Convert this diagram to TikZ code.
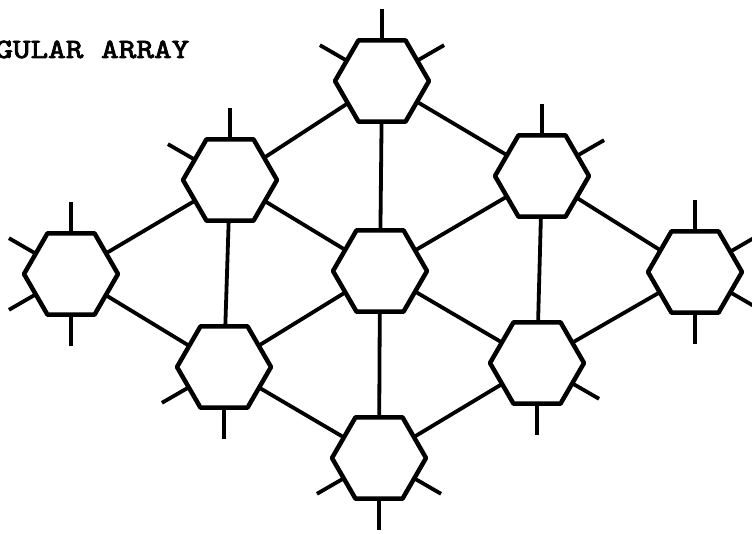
\documentclass[tikz,border=0pt]{standalone}
\usepackage{fontspec}
\newfontfamily\titlefont[FakeBold=2.5]{lmmono10-regular.otf}
\usetikzlibrary{shapes.geometric}
\tikzset{
  x=1pt, y=1pt,
  hexnode/.style={shape=regular polygon, regular polygon sides=6, draw, minimum size=94pt,
    inner sep=0pt, outer sep=0pt, line width=4.5pt, line join=round},
  link/.style={line width=3.8pt},
  stub/.style={line width=3.8pt},
  titletext/.style={anchor=base west, inner sep=0pt, xscale=1.2, transform shape,
    font=\titlefont\fontsize{28}{30}\selectfont}
}
\begin{document}
\begin{tikzpicture}
\useasboundingbox (0,0) rectangle (752,533);
\clip (0,0) rectangle (752,533);
\node[titletext] (title) at (-5,475) {GULAR ARRAY};
\node[hexnode] (T)  at (382,452) {};
\node[hexnode] (UL) at (230,353) {};
\node[hexnode] (UR) at (542,357) {};
\node[hexnode] (L)  at (71,259) {};
\node[hexnode] (C)  at (380,262) {};
\node[hexnode] (R)  at (695,261) {};
\node[hexnode] (LL) at (224,166) {};
\node[hexnode] (LR) at (537,170) {};
\node[hexnode] (B)  at (379,75) {};
% connectors
\foreach \a/\b in {T/UL,T/UR,T/C,UL/L,UL/C,UL/LL,UR/C,UR/R,UR/LR,L/LL,C/LL,C/LR,C/B,R/LR,LL/B,LR/B}
  \draw[link] (\a) -- (\b);
% stubs
\foreach \n/\ang in {T/90,T/150,T/30,UL/90,UL/150,UR/90,UR/30,L/90,L/150,L/-150,L/-90,R/90,R/30,R/-30,R/-90,LL/-90,LL/-150,LR/-90,LR/-30,B/-90,B/-30,B/-150}
  \draw[stub] (\n.\ang) -- ++(\ang:31);
\end{tikzpicture}
\end{document}
